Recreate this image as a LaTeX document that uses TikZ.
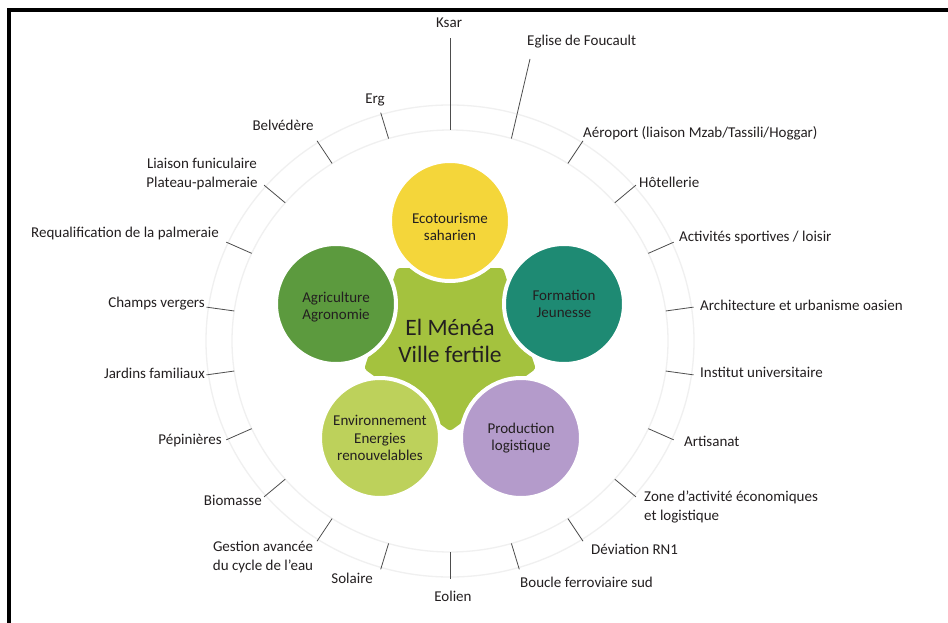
\documentclass[tikz,border=0pt]{standalone}
\usepackage{fontspec}
\setmainfont{Carlito}
\usetikzlibrary{shapes.geometric}
\definecolor{txt}{HTML}{231F20}
\definecolor{ringc}{HTML}{F0F0F0}
\definecolor{tickc}{HTML}{4D4D4D}
\definecolor{ecoc}{HTML}{F4D63A}
\definecolor{agric}{HTML}{5C9A3E}
\definecolor{tealc}{HTML}{1E8A73}
\definecolor{envc}{HTML}{BDD15B}
\definecolor{prodc}{HTML}{B49BCB}
\definecolor{hubc}{HTML}{A4C23E}
\begin{document}
\begin{tikzpicture}[x=1pt,y=-1pt,
  lbl/.style={font=\fontsize{15}{19.5}\selectfont, text=txt, inner sep=0pt},
  bubble/.style={circle, minimum size=120pt, draw=white, line width=4pt, inner sep=0pt,
    align=center, text=txt, font=\fontsize{15}{17.5}\selectfont},
  bubtext/.style={inner sep=0pt, align=center, text=txt, font=\fontsize{15}{17.5}\selectfont},
  tickline/.style={draw=tickc, line width=0.8pt},
  ring/.style={draw=ringc, line width=1.3pt}]
\useasboundingbox (0,0) rectangle (948,623);
\fill[white] (0,0) rectangle (948,623);
\draw[line width=4pt] (9,623) -- (9,10) -- (948,10);
% rings
\draw[ring] (450,341) ellipse [x radius=218, y radius=211];
\draw[ring] (450,341) ellipse [x radius=244, y radius=236];
% ticks
\coordinate (i0) at (450,130);
\coordinate (o0) at (450,38);
\coordinate (i1) at (511.4,138.5);
\coordinate (o1) at (530,59);
\draw[tickline] (i0) -- (o0);
\draw[tickline] (i1) -- (o1);
\foreach \k in {2,...,21}{
  \pgfmathsetmacro\a{90-\k*360/22}
  \coordinate (i\k) at ({450+218*cos(\a)},{341-211*sin(\a)});
  \coordinate (o\k) at ({450+246*cos(\a)},{341-238*sin(\a)});
  \draw[tickline] (i\k) -- (o\k);
}
% hub
\node[regular polygon, regular polygon sides=5, shape border rotate=180,
  minimum size=166pt, fill=hubc, rounded corners=3pt, inner sep=0pt,
  align=center, text=txt, font=\fontsize{23.5}{27}\selectfont] (hub) at (450,341)
  {El Ménéa\\Ville fertile};
% bubbles
\node[bubble, fill=ecoc] (eco) at (450,221) {};
\node[bubtext] (ecot) at (450,227) {Ecotourisme\\saharien};
\node[bubble, fill=agric] (agri) at (336,304) {};
\node[bubtext] (agrit) at (336,307) {Agriculture\\Agronomie};
\node[bubble, fill=tealc] (form) at (564,304) {Formation\\Jeunesse};
\node[bubble, fill=envc] (env) at (380,438) {Environnement\\Energies\\renouvelables};
\node[bubble, fill=prodc] (prod) at (521,438) {Production\\logistique};
% labels
\node[lbl] (l0) at (449,23) {Ksar};
\node[lbl, anchor=west] (l1) at (527,42) {Eglise de Foucault};
\node[lbl, anchor=west] (l2) at (583,133) {Aéroport (liaison Mzab/Tassili/Hoggar)};
\node[lbl, anchor=west] (l3) at (639,182) {Hôtellerie};
\node[lbl, anchor=west] (l4) at (679,238) {Activités sportives / loisir};
\node[lbl, anchor=west] (l5) at (700,305) {Architecture et urbanisme oasien};
\node[lbl, anchor=west] (l6) at (700,372) {Institut universitaire};
\node[lbl, anchor=west] (l7) at (684,441) {Artisanat};
\node[lbl, anchor=west, align=left] (l8) at (644,507) {Zone d’activité économiques\\et logistique};
\node[lbl, anchor=west] (l9) at (591,549) {Déviation RN1};
\node[lbl, anchor=west] (l10) at (520,582) {Boucle ferroviaire sud};
\node[lbl] (l11) at (453,596) {Eolien};
\node[lbl, anchor=east] (l12) at (373,578) {Solaire};
\node[lbl, align=center] (l13) at (263,557) {Gestion avancée\\du cycle de l’eau};
\node[lbl, anchor=east] (l14) at (262,500) {Biomasse};
\node[lbl, anchor=east] (l15) at (222,441) {Pépinières};
\node[lbl, anchor=east] (l16) at (205,373) {Jardins familiaux};
\node[lbl, anchor=east] (l17) at (205,304) {Champs vergers};
\node[lbl, anchor=east] (l18) at (219,234) {Requalification de la palmeraie};
\node[lbl, align=center] (l19) at (202,174) {Liaison funiculaire\\Plateau-palmeraie};
\node[lbl] (l20) at (283,125) {Belvédère};
\node[lbl] (l21) at (375,100) {Erg};
\end{tikzpicture}
\end{document}
